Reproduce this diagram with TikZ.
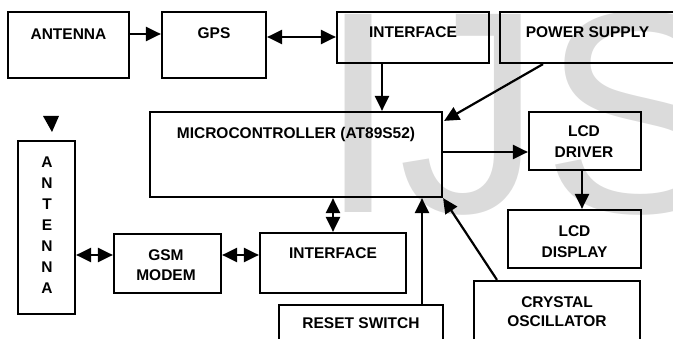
\documentclass[tikz,border=0pt]{standalone}
\usepackage{fontspec}
\setmainfont{Liberation Sans}
\usetikzlibrary{arrows.meta}
\definecolor{wmgray}{RGB}{219,219,219}
\begin{document}
\begin{tikzpicture}[x=1pt,y=-1pt,
  box/.style={draw, line width=2.2pt, inner sep=0pt},
  lbl/.style={font=\fontsize{15.5}{20.5}\selectfont\bfseries, inner sep=0pt, align=center},
  arr/.style={line width=2.2pt, -{Triangle[length=15pt,width=14pt]}},
  darr/.style={line width=2.2pt, {Triangle[length=15pt,width=14pt]}-{Triangle[length=15pt,width=14pt]}},
]
\useasboundingbox (0,0) rectangle (673,339);
\begin{scope}
\clip (0,0) rectangle (673,339);
% watermark
\node[anchor=base west, inner sep=0pt, text=wmgray, font=\fontsize{288}{288}\selectfont] (wm) at (318,213) {IJS};
% boxes
\node[box, minimum width=121pt, minimum height=66pt] (ant1) at (68.5,45) {};
\node[box, minimum width=104pt, minimum height=66pt] (gps) at (214,45) {};
\node[box, minimum width=152pt, minimum height=51pt] (if1) at (413,37.5) {};
\node[box, minimum width=200pt, minimum height=51pt] (ps) at (600,37.5) {};
\node[box, minimum width=292pt, minimum height=85pt] (mcu) at (296,154.5) {};
\node[box, minimum width=112pt, minimum height=58pt] (lcdd) at (585,141) {};
\node[box, minimum width=133pt, minimum height=58pt] (lcdp) at (574.5,239) {};
\node[box, minimum width=166pt, minimum height=79pt] (xtal) at (557,320.5) {};
\node[box, minimum width=164pt, minimum height=55pt] (rst) at (361,332.5) {};
\node[box, minimum width=146pt, minimum height=60pt] (if2) at (333,263) {};
\node[box, minimum width=107pt, minimum height=59pt] (gsm) at (167.5,263.5) {};
\node[box, minimum width=57pt, minimum height=173pt] (ant2) at (46.5,227.5) {};
% labels
\node[lbl, anchor=base] (t-ant1) at (68.5,40) {ANTENNA};
\node[lbl, anchor=base] (t-gps) at (214,39) {GPS};
\node[lbl, anchor=base] (t-if1) at (413,38) {INTERFACE};
\node[lbl, anchor=base] (t-ps) at (587.5,38) {POWER SUPPLY};
\node[lbl, anchor=base] (t-mcu) at (296,139) {MICROCONTROLLER (AT89S52)};
\node[lbl] (t-lcdd) at (584,141.5) {LCD\\DRIVER};
\node[lbl] (t-lcdp) at (574.5,241.5) {LCD\\DISPLAY};
\node[lbl, font=\fontsize{15.5}{19.5}\selectfont\bfseries] (t-xtal) at (557,311.5) {CRYSTAL\\OSCILLATOR};
\node[lbl, anchor=base] (t-rst) at (361,328.5) {RESET SWITCH};
\node[lbl, anchor=base] (t-if2) at (333,258.5) {INTERFACE};
\node[lbl] (t-gsm) at (166,265) {GSM\\MODEM};
\node[lbl, font=\fontsize{15.5}{21}\selectfont\bfseries] (t-ant2) at (47,225) {A\\N\\T\\E\\N\\N\\A};
% antenna symbol
\fill (43,116) -- (59,116) -- (52,132) -- cycle;
% connectors
\draw[arr] (ant1.east |- 0,34) -- (gps.west |- 0,34);
\draw[darr] (gps.east |- 0,37) -- (if1.west |- 0,37);
\draw[arr] (if1.south -| 382,0) -- (mcu.north -| 382,0);
\draw[arr] (ps.south -| 543,0) -- ([shift={(1,10)}]mcu.north east);
\draw[arr] (mcu.east |- 0,152) -- (lcdd.west |- 0,152);
\draw[arr] (lcdd.south -| 582,0) -- (lcdp.north -| 582,0);
\draw[arr] (xtal.north -| 497,0) -- (mcu.south east);
\draw[arr] (rst.north -| 422,0) -- (mcu.south -| 422,0);
\draw[darr] (mcu.south -| 333,0) -- (if2.north -| 333,0);
\draw[darr] (gsm.east |- 0,255) -- (if2.west |- 0,255);
\draw[darr] (ant2.east |- 0,255) -- (gsm.west |- 0,255);
\end{scope}
\end{tikzpicture}
\end{document}
